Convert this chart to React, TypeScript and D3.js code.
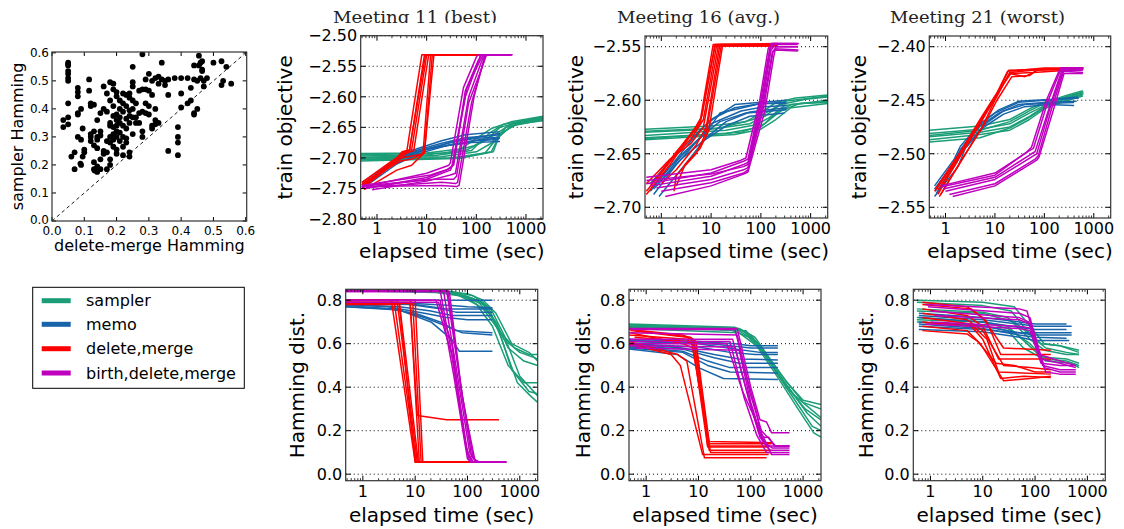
import React from "react";
import * as d3 from "d3";

type Pt = [number, number];
type Run = Pt[];

// ---------------- data ----------------
const METHODS = ["sampler", "memo", "delete,merge", "birth,delete,merge"];
const COLORS = ["#1b9e77", "#1764ab", "#ff0000", "#bf00bf"];
const TITLES = ["Meeting 11 (best)", "Meeting 16 (avg.)", "Meeting 21 (worst)"];
const X_TICKS = [1, 10, 100, 1000];
const TIME_DOMAIN: [number, number] = [0.47, 2200];
const OBJ_TICKS_11 = [-2.8, -2.75, -2.7, -2.65, -2.6, -2.55, -2.5];
const OBJ_TICKS_16 = [-2.7, -2.65, -2.6, -2.55];
const OBJ_TICKS_21 = [-2.55, -2.5, -2.45, -2.4];
const HAM_TICKS = [0, 0.2, 0.4, 0.6, 0.8];
const SCATTER_TICKS = [0, 0.1, 0.2, 0.3, 0.4, 0.5, 0.6];

// scatter: [delete-merge Hamming, sampler Hamming]
const scatterPts: Pt[] = [
  [0.05, 0.565], [0.05, 0.56], [0.05, 0.555], [0.05, 0.535], [0.05, 0.525], [0.05, 0.51], [0.05, 0.5], [0.05, 0.42], [0.05, 0.37], [0.05, 0.345],
  [0.035, 0.36], [0.035, 0.335], [0.06, 0.23], [0.07, 0.245], [0.07, 0.185],
  [0.08, 0.475], [0.08, 0.46], [0.08, 0.445], [0.08, 0.385], [0.08, 0.38], [0.08, 0.3],
  [0.09, 0.4], [0.09, 0.29], [0.09, 0.2], [0.088, 0.205], [0.095, 0.33], [0.095, 0.23], [0.1, 0.255], [0.1, 0.245],
  [0.115, 0.505], [0.115, 0.465], [0.12, 0.42], [0.12, 0.41], [0.12, 0.31], [0.12, 0.3], [0.12, 0.285],
  [0.13, 0.415], [0.13, 0.32], [0.13, 0.27], [0.13, 0.21], [0.13, 0.185], [0.132, 0.18],
  [0.14, 0.36], [0.14, 0.3], [0.14, 0.29], [0.14, 0.26], [0.14, 0.195], [0.14, 0.175],
  [0.15, 0.385], [0.15, 0.32], [0.15, 0.305], [0.15, 0.22], [0.15, 0.185],
  [0.16, 0.48], [0.16, 0.4], [0.16, 0.25], [0.16, 0.24],
  [0.17, 0.455], [0.17, 0.39], [0.17, 0.285], [0.17, 0.245], [0.17, 0.185],
  [0.18, 0.495], [0.18, 0.43], [0.18, 0.35], [0.18, 0.34], [0.18, 0.3], [0.18, 0.28], [0.18, 0.22], [0.18, 0.2],
  [0.19, 0.49], [0.19, 0.47], [0.19, 0.41], [0.19, 0.375], [0.19, 0.335], [0.19, 0.31], [0.19, 0.29], [0.19, 0.265],
  [0.2, 0.46], [0.2, 0.445], [0.2, 0.38], [0.2, 0.36], [0.2, 0.34], [0.2, 0.32], [0.2, 0.3], [0.2, 0.255], [0.2, 0.24],
  [0.21, 0.43], [0.21, 0.4], [0.21, 0.37], [0.21, 0.35], [0.21, 0.315], [0.21, 0.285],
  [0.22, 0.455], [0.22, 0.42], [0.22, 0.39], [0.22, 0.34], [0.22, 0.3], [0.22, 0.265], [0.22, 0.235],
  [0.23, 0.45], [0.23, 0.41], [0.23, 0.365], [0.23, 0.33], [0.23, 0.295], [0.23, 0.28],
  [0.24, 0.455], [0.24, 0.44], [0.24, 0.395], [0.24, 0.375], [0.24, 0.35], [0.24, 0.245], [0.24, 0.23],
  [0.25, 0.55], [0.25, 0.495], [0.25, 0.48], [0.25, 0.43], [0.25, 0.4], [0.25, 0.37], [0.25, 0.31],
  [0.26, 0.42], [0.26, 0.37], [0.26, 0.35], [0.27, 0.465], [0.27, 0.385], [0.27, 0.35],
  [0.28, 0.595], [0.28, 0.47], [0.28, 0.39], [0.28, 0.32], [0.28, 0.3],
  [0.29, 0.505], [0.29, 0.47], [0.29, 0.42], [0.29, 0.385], [0.3, 0.525], [0.3, 0.465], [0.3, 0.41], [0.3, 0.38],
  [0.31, 0.5], [0.31, 0.45], [0.31, 0.34], [0.31, 0.33], [0.32, 0.51], [0.32, 0.4], [0.32, 0.36], [0.32, 0.345],
  [0.33, 0.515], [0.33, 0.49], [0.33, 0.35], [0.34, 0.565], [0.34, 0.505], [0.35, 0.5], [0.35, 0.485],
  [0.36, 0.505], [0.36, 0.45], [0.36, 0.25], [0.38, 0.51],
  [0.39, 0.335], [0.39, 0.3], [0.39, 0.28], [0.39, 0.235], [0.4, 0.51], [0.4, 0.455], [0.4, 0.405],
  [0.42, 0.51], [0.42, 0.42], [0.43, 0.475], [0.43, 0.43], [0.44, 0.555], [0.44, 0.505], [0.44, 0.385], [0.44, 0.38],
  [0.45, 0.5], [0.45, 0.4], [0.455, 0.59], [0.455, 0.555], [0.46, 0.565], [0.46, 0.51],
  [0.465, 0.57], [0.465, 0.54], [0.465, 0.535], [0.47, 0.48], [0.47, 0.5], [0.48, 0.51],
  [0.5, 0.565], [0.525, 0.57], [0.525, 0.485], [0.53, 0.5], [0.54, 0.55], [0.555, 0.49],
];

// ---- Meeting 11, train objective ----
const obj11Sampler: Run[] = [
  [[0.47, -2.693], [10, -2.692], [50, -2.685], [100, -2.668], [200, -2.652], [500, -2.641], [2200, -2.632]],
  [[0.47, -2.697], [10, -2.695], [60, -2.688], [150, -2.672], [300, -2.65], [800, -2.64], [2200, -2.634]],
  [[0.47, -2.7], [20, -2.698], [100, -2.69], [200, -2.676], [400, -2.65], [1000, -2.64], [2200, -2.636]],
  [[0.47, -2.703], [30, -2.7], [150, -2.692], [250, -2.67], [500, -2.648], [2200, -2.638]],
  [[0.47, -2.705], [40, -2.701], [200, -2.69], [300, -2.662], [600, -2.645], [2200, -2.637]],
  [[0.47, -2.699], [15, -2.696], [80, -2.688], [180, -2.66], [350, -2.645], [2200, -2.633]],
  [[0.47, -2.695], [25, -2.692], [90, -2.68], [200, -2.665], [500, -2.645], [2200, -2.635]],
  [[0.47, -2.702], [50, -2.7], [220, -2.69], [300, -2.66], [700, -2.644], [2200, -2.639]],
];
const obj11Memo: Run[] = [
  [[0.5, -2.745], [2, -2.71], [5, -2.688], [20, -2.672], [60, -2.662], [300, -2.657]],
  [[0.5, -2.748], [2, -2.712], [5, -2.69], [20, -2.676], [60, -2.667], [300, -2.662]],
  [[0.55, -2.742], [3, -2.7], [8, -2.688], [30, -2.675], [100, -2.668], [290, -2.666]],
  [[0.5, -2.74], [2.5, -2.702], [6, -2.69], [25, -2.68], [100, -2.672], [280, -2.67]],
  [[0.5, -2.745], [2, -2.708], [5, -2.692], [15, -2.682], [80, -2.675], [300, -2.673]],
  [[0.55, -2.744], [3, -2.702], [10, -2.686], [40, -2.672], [150, -2.664], [300, -2.66]],
  [[0.6, -2.746], [2.5, -2.71], [7, -2.693], [30, -2.678], [120, -2.67], [300, -2.668]],
];
const obj11Delete: Run[] = [
  [[0.5, -2.745], [1.5, -2.715], [3.5, -2.69], [4.5, -2.688], [9, -2.532], [400, -2.531]],
  [[0.5, -2.748], [2, -2.708], [4, -2.688], [5, -2.686], [10, -2.532], [400, -2.531]],
  [[0.5, -2.74], [2, -2.705], [4, -2.69], [4.5, -2.688], [9.5, -2.531], [350, -2.531]],
  [[0.5, -2.75], [2.5, -2.706], [4, -2.692], [5.5, -2.688], [11, -2.531], [450, -2.531]],
  [[0.5, -2.745], [3, -2.7], [8, -2.694], [8.5, -2.69], [12, -2.531], [400, -2.531]],
  [[0.5, -2.742], [3, -2.705], [5, -2.702], [9, -2.692], [14, -2.531], [400, -2.531]],
  [[0.55, -2.752], [2.5, -2.72], [5, -2.712], [7, -2.7], [9, -2.692], [13, -2.531], [420, -2.531]],
  [[0.5, -2.747], [2, -2.71], [3.2, -2.69], [4, -2.688], [8, -2.531], [380, -2.531]],
];
const obj11Birth: Run[] = [
  [[0.5, -2.748], [10, -2.725], [28, -2.712], [30, -2.708], [55, -2.585], [100, -2.535], [110, -2.531], [500, -2.531]],
  [[0.6, -2.75], [10, -2.732], [25, -2.72], [35, -2.712], [60, -2.59], [110, -2.54], [130, -2.531], [520, -2.531]],
  [[0.8, -2.752], [10, -2.738], [30, -2.728], [38, -2.725], [70, -2.6], [130, -2.54], [150, -2.531], [480, -2.531]],
  [[0.5, -2.746], [15, -2.735], [35, -2.735], [40, -2.73], [70, -2.61], [140, -2.545], [160, -2.531], [500, -2.531]],
  [[0.7, -2.748], [20, -2.74], [38, -2.742], [42, -2.74], [80, -2.61], [150, -2.535], [160, -2.531], [540, -2.531]],
  [[0.5, -2.747], [20, -2.745], [40, -2.747], [45, -2.745], [90, -2.6], [140, -2.54], [155, -2.531], [500, -2.531]],
  [[0.6, -2.749], [10, -2.735], [30, -2.72], [32, -2.715], [65, -2.585], [120, -2.54], [140, -2.531], [450, -2.531]],
  [[0.5, -2.745], [12, -2.728], [28, -2.718], [34, -2.712], [60, -2.6], [115, -2.538], [120, -2.531], [520, -2.531]],
];

// ---- Meeting 16, train objective ----
const obj16Sampler: Run[] = [
  [[0.47, -2.627], [10, -2.624], [50, -2.62], [100, -2.612], [200, -2.602], [500, -2.598], [2200, -2.595]],
  [[0.47, -2.63], [10, -2.627], [60, -2.622], [120, -2.615], [250, -2.604], [800, -2.599], [2200, -2.597]],
  [[0.47, -2.633], [20, -2.628], [80, -2.623], [150, -2.616], [300, -2.605], [2200, -2.6]],
  [[0.47, -2.635], [20, -2.631], [100, -2.625], [180, -2.614], [400, -2.604], [2200, -2.601]],
  [[0.47, -2.637], [30, -2.632], [100, -2.627], [200, -2.618], [400, -2.607], [2200, -2.603]],
  [[0.47, -2.629], [15, -2.626], [70, -2.618], [150, -2.61], [300, -2.601], [2200, -2.596]],
  [[0.47, -2.636], [40, -2.63], [120, -2.622], [250, -2.61], [600, -2.603], [2200, -2.602]],
];
const obj16Memo: Run[] = [
  [[0.6, -2.685], [2, -2.655], [5, -2.632], [10, -2.618], [30, -2.607], [100, -2.603], [330, -2.602]],
  [[0.7, -2.688], [2, -2.66], [6, -2.635], [10, -2.622], [40, -2.61], [120, -2.606], [330, -2.605]],
  [[0.8, -2.68], [2.5, -2.652], [7, -2.632], [15, -2.62], [50, -2.612], [330, -2.609]],
  [[0.6, -2.678], [2, -2.65], [6, -2.628], [12, -2.616], [30, -2.604], [330, -2.6]],
  [[0.9, -2.69], [3, -2.66], [8, -2.635], [20, -2.62], [60, -2.611], [330, -2.607]],
  [[0.7, -2.683], [2.5, -2.655], [7, -2.638], [20, -2.624], [60, -2.615], [300, -2.612]],
  [[0.8, -2.675], [3, -2.648], [8, -2.63], [15, -2.612], [100, -2.603], [320, -2.603]],
];
const obj16Delete: Run[] = [
  [[0.5, -2.688], [1.5, -2.66], [3, -2.64], [6, -2.622], [12, -2.548], [220, -2.548]],
  [[0.6, -2.68], [2, -2.65], [4, -2.636], [7, -2.618], [13, -2.548], [210, -2.548]],
  [[0.5, -2.678], [1.5, -2.655], [4, -2.64], [7, -2.625], [14, -2.549], [200, -2.549]],
  [[1, -2.678], [2, -2.665], [5, -2.642], [8, -2.625], [15, -2.548], [220, -2.547]],
  [[1.8, -2.685], [2, -2.67], [5, -2.65], [8, -2.63], [16, -2.549], [200, -2.549]],
  [[2, -2.68], [3, -2.66], [6, -2.645], [9, -2.628], [17, -2.549], [220, -2.549]],
  [[0.5, -2.685], [1, -2.668], [3, -2.638], [6, -2.62], [11, -2.548], [180, -2.548]],
  [[0.7, -2.676], [2, -2.648], [4, -2.632], [6.5, -2.615], [12, -2.549], [200, -2.549]],
];
const obj16Birth: Run[] = [
  [[0.5, -2.678], [10, -2.668], [45, -2.657], [55, -2.655], [100, -2.6], [150, -2.552], [170, -2.548], [550, -2.548]],
  [[0.6, -2.68], [10, -2.671], [45, -2.66], [55, -2.658], [105, -2.6], [155, -2.552], [175, -2.547], [580, -2.547]],
  [[0.5, -2.675], [10, -2.669], [45, -2.662], [55, -2.66], [110, -2.6], [160, -2.553], [180, -2.55], [560, -2.55]],
  [[0.8, -2.682], [10, -2.674], [45, -2.665], [55, -2.663], [110, -2.605], [170, -2.555], [190, -2.552], [570, -2.553]],
  [[1.0, -2.685], [10, -2.677], [45, -2.668], [55, -2.665], [115, -2.605], [175, -2.555], [195, -2.553], [560, -2.554]],
  [[1.2, -2.69], [10, -2.68], [45, -2.669], [55, -2.667], [120, -2.61], [180, -2.56], [200, -2.55], [550, -2.55]],
  [[0.5, -2.672], [10, -2.665], [40, -2.656], [50, -2.654], [95, -2.6], [140, -2.552], [160, -2.547], [520, -2.547]],
];

// ---- Meeting 21, train objective ----
const obj21Sampler: Run[] = [
  [[0.47, -2.478], [5, -2.474], [20, -2.468], [50, -2.458], [100, -2.452], [300, -2.445], [600, -2.441]],
  [[0.47, -2.481], [5, -2.477], [20, -2.472], [50, -2.462], [100, -2.455], [300, -2.447], [600, -2.443]],
  [[0.47, -2.484], [5, -2.48], [20, -2.475], [50, -2.465], [100, -2.456], [300, -2.448], [620, -2.444]],
  [[0.47, -2.487], [5, -2.482], [20, -2.478], [50, -2.468], [100, -2.458], [300, -2.449], [600, -2.445]],
  [[0.47, -2.489], [5, -2.485], [20, -2.476], [50, -2.466], [100, -2.457], [300, -2.45], [600, -2.446]],
  [[0.47, -2.483], [5, -2.478], [20, -2.47], [50, -2.46], [100, -2.453], [300, -2.446], [620, -2.442]],
];
const obj21Memo: Run[] = [
  [[0.6, -2.53], [1.5, -2.505], [2, -2.493], [5, -2.472], [10, -2.462], [30, -2.452], [100, -2.45], [500, -2.448]],
  [[0.6, -2.533], [1.5, -2.508], [2, -2.496], [5, -2.474], [12, -2.462], [30, -2.454], [100, -2.452], [450, -2.451]],
  [[0.65, -2.537], [1.7, -2.508], [2.2, -2.497], [6, -2.473], [15, -2.46], [40, -2.454], [100, -2.453], [400, -2.452]],
  [[0.6, -2.54], [1.8, -2.512], [2.5, -2.495], [6, -2.475], [15, -2.463], [40, -2.456], [120, -2.454], [400, -2.455]],
  [[0.62, -2.535], [1.6, -2.506], [2.2, -2.494], [5.5, -2.471], [12, -2.459], [30, -2.451], [150, -2.449], [480, -2.447]],
];
const obj21Delete: Run[] = [
  [[0.6, -2.535], [2, -2.5], [5, -2.47], [10, -2.447], [18, -2.423], [100, -2.42], [600, -2.42]],
  [[0.7, -2.538], [2, -2.502], [5, -2.472], [10, -2.448], [19, -2.422], [100, -2.421], [600, -2.42]],
  [[0.75, -2.54], [2.2, -2.505], [5.5, -2.475], [10, -2.45], [20, -2.424], [100, -2.421], [550, -2.42]],
  [[0.65, -2.532], [2, -2.498], [5, -2.468], [10, -2.446], [21, -2.425], [60, -2.424], [80, -2.421], [600, -2.42]],
  [[0.8, -2.538], [2.3, -2.503], [6, -2.473], [11, -2.45], [22, -2.428], [50, -2.427], [70, -2.422], [580, -2.421]],
  [[0.7, -2.534], [2, -2.501], [5, -2.471], [9, -2.452], [20, -2.425], [40, -2.428], [60, -2.424], [600, -2.421]],
];
const obj21Birth: Run[] = [
  [[0.8, -2.53], [10, -2.518], [50, -2.497], [60, -2.495], [120, -2.45], [220, -2.42], [600, -2.42]],
  [[0.9, -2.533], [10, -2.522], [55, -2.5], [65, -2.498], [130, -2.455], [230, -2.421], [620, -2.421]],
  [[1.0, -2.535], [10, -2.524], [60, -2.502], [70, -2.5], [135, -2.455], [240, -2.422], [600, -2.422]],
  [[1.2, -2.538], [10, -2.528], [65, -2.505], [75, -2.502], [140, -2.458], [245, -2.423], [610, -2.424]],
  [[1.4, -2.54], [10, -2.53], [70, -2.506], [78, -2.503], [150, -2.46], [250, -2.425], [600, -2.425]],
  [[0.8, -2.531], [10, -2.52], [45, -2.498], [55, -2.494], [110, -2.45], [210, -2.42], [630, -2.42]],
];

// ---- Meeting 11, Hamming ----
const ham11Sampler: Run[] = [
  [[0.47, 0.845], [20, 0.84], [50, 0.83], [100, 0.81], [200, 0.76], [400, 0.66], [800, 0.58], [1500, 0.55], [2200, 0.55]],
  [[0.47, 0.845], [30, 0.84], [80, 0.82], [150, 0.8], [300, 0.72], [500, 0.62], [1000, 0.56], [2200, 0.53]],
  [[0.47, 0.845], [40, 0.84], [100, 0.81], [200, 0.78], [350, 0.7], [600, 0.58], [1200, 0.52], [2200, 0.5]],
  [[0.47, 0.845], [25, 0.835], [70, 0.82], [150, 0.78], [300, 0.68], [600, 0.5], [1200, 0.42], [2200, 0.42]],
  [[0.47, 0.845], [35, 0.84], [90, 0.82], [200, 0.79], [400, 0.66], [700, 0.48], [1500, 0.38], [2200, 0.37]],
  [[0.47, 0.845], [45, 0.84], [120, 0.81], [250, 0.77], [450, 0.62], [900, 0.42], [1600, 0.36], [2200, 0.33]],
  [[0.47, 0.845], [30, 0.84], [100, 0.83], [200, 0.8], [350, 0.74], [700, 0.6], [1500, 0.56], [2200, 0.52]],
  [[0.47, 0.845], [50, 0.84], [130, 0.82], [280, 0.76], [500, 0.64], [1000, 0.45], [2200, 0.36]],
];
const ham11Memo: Run[] = [
  [[0.47, 0.8], [10, 0.8], [50, 0.8], [300, 0.8]],
  [[0.47, 0.79], [10, 0.785], [50, 0.775], [100, 0.77], [300, 0.765]],
  [[0.47, 0.79], [10, 0.78], [40, 0.76], [100, 0.76], [300, 0.76]],
  [[0.47, 0.78], [5, 0.77], [20, 0.75], [50, 0.73], [300, 0.73]],
  [[0.47, 0.78], [3, 0.77], [15, 0.74], [40, 0.72], [100, 0.71], [300, 0.71]],
  [[0.47, 0.77], [3, 0.76], [10, 0.74], [30, 0.7], [60, 0.66], [300, 0.65]],
  [[0.47, 0.775], [4, 0.76], [15, 0.72], [40, 0.68], [80, 0.65], [300, 0.64]],
  [[0.47, 0.77], [5, 0.755], [20, 0.7], [50, 0.62], [70, 0.565], [300, 0.565]],
  [[0.47, 0.785], [8, 0.78], [30, 0.76], [60, 0.745], [300, 0.745]],
];
const ham11Delete: Run[] = [
  [[0.47, 0.8], [3.5, 0.8], [10, 0.055], [500, 0.055]],
  [[0.47, 0.79], [4, 0.79], [10.5, 0.055], [450, 0.055]],
  [[0.47, 0.8], [4.5, 0.8], [11, 0.055], [500, 0.055]],
  [[0.47, 0.785], [5, 0.785], [11.5, 0.055], [480, 0.055]],
  [[0.47, 0.78], [5, 0.78], [10, 0.055], [500, 0.055]],
  [[0.47, 0.8], [8, 0.8], [12, 0.055], [500, 0.055]],
  [[0.47, 0.79], [9, 0.79], [13, 0.055], [450, 0.055]],
  [[0.47, 0.8], [10, 0.8], [14, 0.055], [500, 0.055]],
  [[0.47, 0.785], [8, 0.785], [11, 0.27], [40, 0.25], [400, 0.25]],
];
const ham11Birth: Run[] = [
  [[0.47, 0.845], [30, 0.845], [55, 0.5], [100, 0.1], [130, 0.055], [550, 0.055]],
  [[0.47, 0.84], [35, 0.84], [60, 0.5], [110, 0.1], [150, 0.055], [550, 0.055]],
  [[0.47, 0.845], [40, 0.845], [70, 0.45], [120, 0.08], [160, 0.055], [550, 0.055]],
  [[0.47, 0.8], [25, 0.8], [50, 0.55], [90, 0.15], [110, 0.055], [550, 0.055]],
  [[0.47, 0.8], [30, 0.8], [55, 0.45], [100, 0.07], [120, 0.055], [550, 0.055]],
  [[0.47, 0.845], [42, 0.845], [75, 0.4], [130, 0.07], [170, 0.055], [550, 0.055]],
  [[0.47, 0.84], [45, 0.84], [80, 0.35], [140, 0.06], [170, 0.055], [550, 0.055]],
  [[0.47, 0.79], [28, 0.79], [50, 0.6], [95, 0.12], [120, 0.055], [550, 0.055]],
];

// ---- Meeting 16, Hamming ----
const ham16Sampler: Run[] = [
  [[0.47, 0.69], [50, 0.675], [100, 0.64], [200, 0.55], [400, 0.45], [1000, 0.33], [2200, 0.3]],
  [[0.47, 0.685], [60, 0.67], [120, 0.63], [250, 0.52], [500, 0.42], [1000, 0.34], [2200, 0.32]],
  [[0.47, 0.68], [40, 0.665], [90, 0.63], [180, 0.56], [350, 0.45], [700, 0.36], [2200, 0.26]],
  [[0.47, 0.675], [70, 0.66], [140, 0.6], [300, 0.48], [600, 0.38], [1200, 0.28], [2200, 0.22]],
  [[0.47, 0.68], [80, 0.66], [160, 0.58], [320, 0.46], [700, 0.34], [1500, 0.22], [2200, 0.2]],
  [[0.47, 0.67], [60, 0.65], [130, 0.59], [280, 0.47], [800, 0.3], [1600, 0.19], [2200, 0.17]],
  [[0.47, 0.685], [50, 0.67], [110, 0.62], [220, 0.52], [500, 0.4], [1100, 0.3], [2200, 0.25]],
];
const ham16Memo: Run[] = [
  [[0.47, 0.62], [10, 0.61], [50, 0.6], [100, 0.59], [330, 0.59]],
  [[0.47, 0.615], [10, 0.605], [40, 0.59], [100, 0.58], [330, 0.58]],
  [[0.47, 0.61], [10, 0.6], [50, 0.575], [150, 0.56], [330, 0.56]],
  [[0.47, 0.6], [10, 0.585], [40, 0.56], [120, 0.55], [330, 0.55]],
  [[0.47, 0.6], [5, 0.58], [20, 0.55], [60, 0.53], [330, 0.525]],
  [[0.47, 0.59], [5, 0.575], [20, 0.535], [60, 0.51], [330, 0.51]],
  [[0.47, 0.585], [5, 0.565], [15, 0.52], [40, 0.49], [330, 0.49]],
  [[0.47, 0.58], [5, 0.56], [15, 0.5], [40, 0.47], [330, 0.465]],
  [[0.47, 0.575], [4, 0.55], [10, 0.49], [30, 0.44], [330, 0.435]],
];
const ham16Delete: Run[] = [
  [[0.47, 0.665], [5, 0.64], [8, 0.62], [16, 0.14], [250, 0.14]],
  [[0.5, 0.66], [6, 0.63], [9, 0.6], [16, 0.15], [260, 0.145]],
  [[0.5, 0.65], [5, 0.6], [8, 0.58], [15, 0.125], [220, 0.125]],
  [[0.47, 0.61], [4, 0.55], [6, 0.52], [13, 0.075], [200, 0.075]],
  [[0.47, 0.6], [3, 0.55], [4.5, 0.5], [12, 0.09], [220, 0.09]],
  [[0.6, 0.63], [6, 0.61], [8.5, 0.59], [16, 0.11], [250, 0.11]],
  [[0.47, 0.64], [6, 0.62], [7.5, 0.6], [17, 0.1], [240, 0.1]],
  [[0.7, 0.66], [7, 0.63], [9, 0.61], [15, 0.13], [230, 0.13]],
];
const ham16Birth: Run[] = [
  [[0.47, 0.67], [55, 0.67], [100, 0.4], [150, 0.25], [200, 0.24], [250, 0.19], [550, 0.19]],
  [[0.5, 0.665], [50, 0.665], [90, 0.42], [130, 0.28], [160, 0.17], [220, 0.17], [280, 0.13], [550, 0.13]],
  [[0.47, 0.62], [45, 0.62], [80, 0.4], [140, 0.2], [200, 0.13], [550, 0.13]],
  [[0.47, 0.61], [40, 0.61], [75, 0.35], [130, 0.18], [200, 0.1], [550, 0.1]],
  [[0.47, 0.6], [35, 0.6], [70, 0.38], [140, 0.22], [250, 0.09], [550, 0.09]],
  [[0.47, 0.59], [50, 0.585], [90, 0.35], [150, 0.17], [230, 0.11], [550, 0.11]],
  [[0.6, 0.58], [60, 0.57], [100, 0.33], [170, 0.15], [260, 0.12], [550, 0.12]],
  [[0.47, 0.65], [55, 0.64], [95, 0.38], [160, 0.2], [300, 0.13], [550, 0.13]],
];

// ---- Meeting 21, Hamming ----
const ham21Sampler: Run[] = [
  [[0.55, 0.8], [10, 0.79], [40, 0.77], [80, 0.68], [150, 0.6], [300, 0.59], [690, 0.56]],
  [[0.55, 0.79], [10, 0.775], [35, 0.75], [70, 0.66], [130, 0.6], [300, 0.59], [690, 0.57]],
  [[0.55, 0.76], [10, 0.745], [30, 0.72], [80, 0.62], [150, 0.57], [400, 0.55], [690, 0.55]],
  [[0.55, 0.72], [10, 0.7], [30, 0.67], [80, 0.6], [150, 0.53], [400, 0.52], [690, 0.5]],
  [[0.55, 0.71], [10, 0.7], [30, 0.68], [70, 0.6], [160, 0.52], [500, 0.51], [690, 0.49]],
  [[0.55, 0.7], [10, 0.685], [30, 0.66], [60, 0.58], [120, 0.54], [400, 0.53], [690, 0.51]],
  [[0.55, 0.75], [10, 0.74], [40, 0.7], [90, 0.63], [160, 0.58], [400, 0.56], [690, 0.55]],
];
const ham21Memo: Run[] = [
  [[0.6, 0.74], [10, 0.72], [50, 0.7], [100, 0.69], [400, 0.69]],
  [[0.6, 0.73], [10, 0.71], [50, 0.69], [100, 0.68], [500, 0.68]],
  [[0.6, 0.72], [10, 0.7], [50, 0.675], [100, 0.665], [400, 0.665]],
  [[0.6, 0.7], [10, 0.68], [50, 0.65], [100, 0.64], [500, 0.64]],
  [[0.6, 0.69], [10, 0.67], [50, 0.64], [100, 0.63], [400, 0.625]],
  [[0.6, 0.665], [10, 0.655], [50, 0.63], [100, 0.615], [450, 0.615]],
  [[0.6, 0.68], [10, 0.665], [40, 0.65], [100, 0.65], [500, 0.65]],
];
const ham21Delete: Run[] = [
  [[0.7, 0.79], [5, 0.77], [10, 0.72], [25, 0.58], [200, 0.57]],
  [[0.7, 0.78], [6, 0.76], [12, 0.7], [22, 0.55], [200, 0.55]],
  [[0.7, 0.76], [5, 0.73], [10, 0.68], [20, 0.53], [200, 0.53]],
  [[0.7, 0.74], [5, 0.71], [10, 0.66], [25, 0.5], [80, 0.49], [200, 0.48]],
  [[0.7, 0.72], [6, 0.69], [12, 0.62], [20, 0.47], [200, 0.46]],
  [[0.7, 0.7], [6, 0.68], [10, 0.62], [22, 0.44], [60, 0.45], [200, 0.445]],
  [[0.7, 0.68], [5, 0.66], [9, 0.6], [25, 0.43], [80, 0.44], [200, 0.45]],
  [[0.7, 0.66], [5, 0.645], [8, 0.61], [18, 0.51], [40, 0.5], [100, 0.47], [200, 0.47]],
];
const ham21Birth: Run[] = [
  [[0.8, 0.78], [50, 0.76], [70, 0.75], [120, 0.55], [300, 0.52], [600, 0.5]],
  [[0.9, 0.77], [50, 0.74], [80, 0.72], [130, 0.53], [300, 0.51], [600, 0.49]],
  [[1.0, 0.75], [50, 0.72], [75, 0.7], [140, 0.5], [300, 0.48], [600, 0.48]],
  [[1.2, 0.73], [50, 0.71], [80, 0.69], [150, 0.49], [300, 0.47], [600, 0.47]],
  [[1.0, 0.7], [50, 0.68], [90, 0.67], [160, 0.47], [300, 0.46], [600, 0.46]],
  [[0.8, 0.69], [50, 0.67], [80, 0.66], [130, 0.51], [300, 0.5], [600, 0.5]],
];

// ---------------- layout ----------------
const FONT = "DejaVu Sans, Verdana, sans-serif";
const SERIF = "DejaVu Serif, Liberation Serif, serif";
const W = 1124;
const H = 529;

interface Box { x0: number; x1: number; y0: number; y1: number; }

interface PanelSpec {
  id: string;
  box: Box;
  yDomain: [number, number];
  yTicks: number[];
  fmt: (v: number) => string;
  runs: Run[][];
  ylabel: string;
  ylabelX: number;
  xTickBase: number;
  xLabelBase: number;
}

const fmtObj = (v: number) => d3.format(".2f")(v).replace("-", "\u2212").replace("\u2212", "\u2212");
const fmtHam = (v: number) => d3.format(".1f")(v);

const panels: PanelSpec[] = [
  { id: "t11", box: { x0: 360.7, x1: 543, y0: 35.7, y1: 219 }, yDomain: [-2.8, -2.5], yTicks: OBJ_TICKS_11, fmt: fmtObj,
    runs: [obj11Sampler, obj11Memo, obj11Delete, obj11Birth], ylabel: "train objective", ylabelX: 292, xTickBase: 234, xLabelBase: 258 },
  { id: "t16", box: { x0: 645, x1: 827.7, y0: 36, y1: 218 }, yDomain: [-2.71, -2.54], yTicks: OBJ_TICKS_16, fmt: fmtObj,
    runs: [obj16Sampler, obj16Memo, obj16Delete, obj16Birth], ylabel: "train objective", ylabelX: 583, xTickBase: 234, xLabelBase: 258 },
  { id: "t21", box: { x0: 929.3, x1: 1110.7, y0: 36, y1: 218 }, yDomain: [-2.56, -2.39], yTicks: OBJ_TICKS_21, fmt: fmtObj,
    runs: [obj21Sampler, obj21Memo, obj21Delete, obj21Birth], ylabel: "train objective", ylabelX: 866, xTickBase: 234, xLabelBase: 258 },
  { id: "b11", box: { x0: 345.7, x1: 537.7, y0: 289.3, y1: 480.7 }, yDomain: [-0.03, 0.85], yTicks: HAM_TICKS, fmt: fmtHam,
    runs: [ham11Sampler, ham11Memo, ham11Delete, ham11Birth], ylabel: "Hamming dist.", ylabelX: 304, xTickBase: 496.5, xLabelBase: 522 },
  { id: "b16", box: { x0: 629, x1: 821, y0: 289.3, y1: 480.7 }, yDomain: [-0.03, 0.85], yTicks: HAM_TICKS, fmt: fmtHam,
    runs: [ham16Sampler, ham16Memo, ham16Delete, ham16Birth], ylabel: "Hamming dist.", ylabelX: 590, xTickBase: 496.5, xLabelBase: 522 },
  { id: "b21", box: { x0: 913.3, x1: 1105.3, y0: 289.3, y1: 480.7 }, yDomain: [-0.03, 0.85], yTicks: HAM_TICKS, fmt: fmtHam,
    runs: [ham21Sampler, ham21Memo, ham21Delete, ham21Birth], ylabel: "Hamming dist.", ylabelX: 873, xTickBase: 496.5, xLabelBase: 522 },
];

const titlePos = [
  { x: 333, w: 164, clip: true },
  { x: 617, w: 163, clip: false },
  { x: 890, w: 175, clip: false },
];

// minor log ticks 2..9 within each decade of the time domain
const MINOR_TICKS: number[] = d3.scaleLog().domain(TIME_DOMAIN).ticks()
  .filter((t) => !X_TICKS.includes(t) && t >= TIME_DOMAIN[0] && t <= TIME_DOMAIN[1]);

function Frame({ box }: { box: Box }) {
  return (
    <rect x={box.x0} y={box.y0} width={box.x1 - box.x0} height={box.y1 - box.y0}
      fill="none" stroke="#333" strokeWidth={1.2} />
  );
}

function LinePanel({ p }: { p: PanelSpec }) {
  const { box } = p;
  const x = d3.scaleLog().domain(TIME_DOMAIN).range([box.x0, box.x1]);
  const y = d3.scaleLinear().domain(p.yDomain).range([box.y1, box.y0]);
  const line = d3.line<Pt>().x((d) => x(d[0])).y((d) => y(d[1]));
  const tl = 5;
  const ml = 2.5;
  const cx = (box.x0 + box.x1) / 2;
  const cy = (box.y0 + box.y1) / 2;
  return (
    <g>
      <defs>
        <clipPath id={"clip-" + p.id}>
          <rect x={box.x0} y={box.y0} width={box.x1 - box.x0} height={box.y1 - box.y0} />
        </clipPath>
      </defs>
      {p.yTicks.map((t) => (
        <line key={"g" + t} x1={box.x0} x2={box.x1} y1={y(t)} y2={y(t)}
          stroke="#000" strokeWidth={1} strokeDasharray="1,3" />
      ))}
      <g clipPath={`url(#clip-${p.id})`}>
        {p.runs.map((runs, mi) =>
          runs.map((r, ri) => (
            <path key={mi + "-" + ri} d={line(r) || ""} fill="none" stroke={COLORS[mi]}
              strokeWidth={1.5} strokeLinejoin="round" />
          ))
        )}
      </g>
      {p.yTicks.map((t) => (
        <g key={"yt" + t}>
          <line x1={box.x0} x2={box.x0 + tl} y1={y(t)} y2={y(t)} stroke="#000" />
          <line x1={box.x1} x2={box.x1 - tl} y1={y(t)} y2={y(t)} stroke="#000" />
          <text x={box.x0 - 3.5} y={y(t)} dy="0.36em" textAnchor="end" fontSize={16} fontFamily={FONT}>
            {p.fmt(t)}
          </text>
        </g>
      ))}
      {MINOR_TICKS.map((t) => (
        <g key={"mt" + t}>
          <line x1={x(t)} x2={x(t)} y1={box.y1} y2={box.y1 - ml} stroke="#000" strokeWidth={0.8} />
          <line x1={x(t)} x2={x(t)} y1={box.y0} y2={box.y0 + ml} stroke="#000" strokeWidth={0.8} />
        </g>
      ))}
      {X_TICKS.map((t) => (
        <g key={"xt" + t}>
          <line x1={x(t)} x2={x(t)} y1={box.y1} y2={box.y1 - tl} stroke="#000" />
          <line x1={x(t)} x2={x(t)} y1={box.y0} y2={box.y0 + tl} stroke="#000" />
          <text x={x(t)} y={p.xTickBase} textAnchor="middle" fontSize={16} fontFamily={FONT}>
            {String(t)}
          </text>
        </g>
      ))}
      <Frame box={box} />
      <text x={cx} y={p.xLabelBase} textAnchor="middle" fontSize={20} fontFamily={FONT}>
        elapsed time (sec)
      </text>
      <text transform={`translate(${p.ylabelX},${cy}) rotate(-90)`} textAnchor="middle" fontSize={20} fontFamily={FONT}>
        {p.ylabel}
      </text>
    </g>
  );
}

function Scatter() {
  const box: Box = { x0: 52, x1: 246.7, y0: 52, y1: 221 };
  const x = d3.scaleLinear().domain([0, 0.603]).range([box.x0, box.x1]);
  const y = d3.scaleLinear().domain([0, 0.603]).range([box.y1, box.y0]);
  const tl = 4;
  return (
    <g>
      <defs>
        <clipPath id="clip-sc">
          <rect x={box.x0} y={box.y0} width={box.x1 - box.x0} height={box.y1 - box.y0} />
        </clipPath>
      </defs>
      <g clipPath="url(#clip-sc)">
        <line x1={x(0)} y1={y(0)} x2={x(0.603)} y2={y(0.603)} stroke="#000" strokeWidth={0.9} strokeDasharray="3.5,3" />
        {scatterPts.map((d, i) => (
          <circle key={i} cx={x(d[0])} cy={y(d[1])} r={2.9} fill="#000" />
        ))}
      </g>
      {SCATTER_TICKS.map((t) => (
        <g key={"s" + t}>
          <line x1={x(t)} x2={x(t)} y1={box.y1} y2={box.y1 - tl} stroke="#000" />
          <line x1={x(t)} x2={x(t)} y1={box.y0} y2={box.y0 + tl} stroke="#000" />
          <line x1={box.x0} x2={box.x0 + tl} y1={y(t)} y2={y(t)} stroke="#000" />
          <line x1={box.x1} x2={box.x1 - tl} y1={y(t)} y2={y(t)} stroke="#000" />
          <text x={x(t)} y={234.5} textAnchor="middle" fontSize={12} fontFamily={FONT}>{d3.format(".1f")(t)}</text>
          <text x={box.x0 - 3} y={y(t) - (t === 0 ? 1.5 : 0)} dy="0.36em" textAnchor="end" fontSize={12} fontFamily={FONT}>{d3.format(".1f")(t)}</text>
        </g>
      ))}
      <Frame box={box} />
      <text x={(box.x0 + box.x1) / 2} y={251} textAnchor="middle" fontSize={16} fontFamily={FONT}>delete-merge Hamming</text>
      <text transform={`translate(${23},${(box.y0 + box.y1) / 2}) rotate(-90)`} textAnchor="middle" fontSize={16} fontFamily={FONT}>
        sampler Hamming
      </text>
    </g>
  );
}

function Legend() {
  const rows = [300.7, 324.3, 348.7, 373];
  return (
    <g>
      <rect x={32.7} y={287.3} width={211.6} height={101} fill="#fff" stroke="#000" strokeWidth={1} />
      {METHODS.map((m, i) => (
        <g key={m}>
          <line x1={41.7} x2={70.7} y1={rows[i]} y2={rows[i]} stroke={COLORS[i]} strokeWidth={5} />
          <text x={86} y={rows[i]} dy="0.36em" fontSize={16} fontFamily={FONT}>{m}</text>
        </g>
      ))}
    </g>
  );
}

export default function App() {
  return (
    <svg width={W} height={H} style={{ position: "absolute", left: 0, top: 0, background: "#fff" }}>
      <defs>
        <clipPath id="title-clip">
          <rect x={0} y={0} width={W} height={23} />
        </clipPath>
      </defs>
      <Scatter />
      <Legend />
      {panels.map((p) => <LinePanel key={p.id} p={p} />)}
      {TITLES.map((t, i) => (
        <g key={t} clipPath={titlePos[i].clip ? "url(#title-clip)" : undefined}>
          <text x={titlePos[i].x} y={22.5} textLength={titlePos[i].w} lengthAdjust="spacingAndGlyphs"
            fontSize={16.5} fontFamily={SERIF} fill="#222">
            {t}
          </text>
        </g>
      ))}
    </svg>
  );
}
